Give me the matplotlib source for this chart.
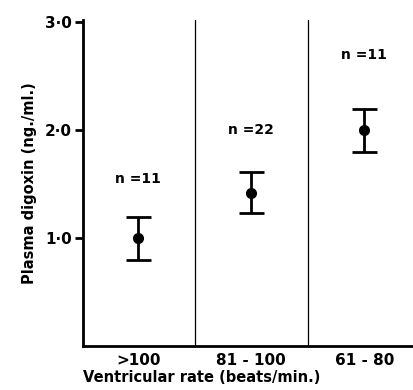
import numpy as np
import matplotlib
matplotlib.use("Agg")
import matplotlib.pyplot as plt

# Plasma digoxin by ventricular rate group
groups = [">100", "81 - 100", "61 - 80"]
means = [1.0, 1.42, 2.0]
errs = [0.2, 0.19, 0.2]
n_labels = ["n =11", "n =22", "n =11"]
n_label_y = [1.55, 2.0, 2.7]
yticks = [1.0, 2.0, 3.0]
ytick_labels = ["1·0", "2·0", "3·0"]

plt.rcParams['font.family'] = ['DejaVu Sans']

fig = plt.figure(figsize=(4.14, 3.9), dpi=100)
ax = fig.add_axes([0.2005, 0.113, 0.7995, 0.835])

x = np.arange(len(groups))
ax.errorbar(x, means, yerr=errs, fmt='o', color='black', ms=7,
            elinewidth=2, capsize=9, capthick=2)

for xi, lab, yy in zip(x, n_labels, n_label_y):
    ax.text(xi, yy, lab, ha='center', va='center', fontsize=10, fontweight='bold')

for xb in [0.5, 1.5]:
    ax.axvline(xb, color='black', lw=0.9)

ax.set_xlim(-0.49, 2.44)
ax.set_ylim(0, 3.02)
ax.set_yticks(yticks)
ax.set_yticklabels(ytick_labels, fontsize=11, fontweight='bold')
ax.set_xticks(x)
ax.set_xticklabels(groups, fontsize=11, fontweight='bold')
ax.tick_params(axis='x', length=0, pad=5)
ax.tick_params(axis='y', length=6, width=2, direction='out', pad=2)

for s in ['top', 'right']:
    ax.spines[s].set_visible(False)
for s in ['left', 'bottom']:
    ax.spines[s].set_linewidth(2)

ax.set_ylabel("Plasma digoxin (ng./ml.)", fontsize=10.5, fontweight='bold', labelpad=6)
ax.set_xlabel("Ventricular rate (beats/min.)", fontsize=10.5, fontweight='bold')
ax.xaxis.set_label_coords(0.36, -0.075)

fig.savefig("out.png", dpi=100)
